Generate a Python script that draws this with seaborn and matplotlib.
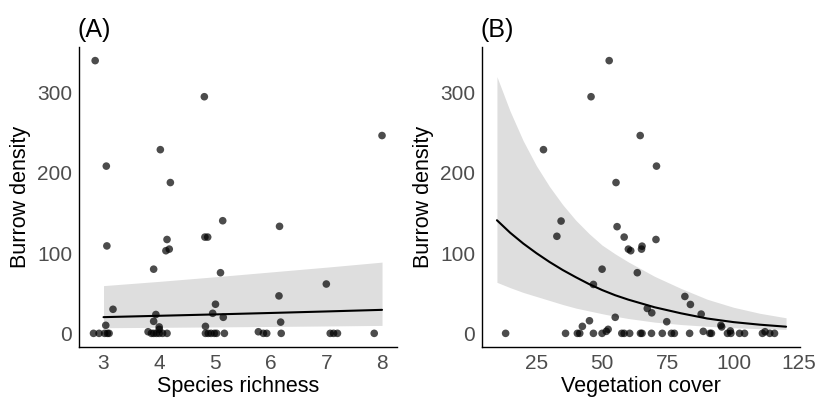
import matplotlib
matplotlib.use("Agg")
import matplotlib.pyplot as plt
import numpy as np
import pandas as pd
import seaborn as sns

# ---- Panel A: burrow density vs species richness ----
richness = [2.85, 4.81, 8.00, 4.02, 3.05, 4.20, 5.14, 6.16, 3.06, 4.14, 4.12, 4.18,
            4.82, 4.87, 3.90, 5.10, 7.00, 6.15, 5.01, 3.17, 4.96, 3.94, 5.15, 3.90,
            6.18, 3.04, 4.83, 4.00, 4.00, 3.80, 5.78,
            2.82, 2.92, 3.02, 3.07, 3.10, 3.86, 3.90, 3.95, 4.00, 4.06, 4.14, 4.83,
            4.88, 4.93, 4.99, 5.03, 5.17, 5.87, 5.93, 6.19, 7.07, 7.13, 7.20, 7.86]
density_a = [340, 295, 246.6, 229, 208.5, 188, 140.4, 133.4, 109, 117, 103, 105,
             120, 120, 80, 75.6, 61.5, 46.7, 36.3, 30, 25, 23.5, 20, 15,
             14, 10, 8.7, 8, 5, 2, 2,
             0, 0, 0, 0, 0, 0, 0, 0, 0, 0, 0, 0,
             0, 0, 0, 0, 0, 0, 0, 0, 0, 0, 0, 0]

# model prediction for richness
rich_grid = [3, 4, 5, 6, 7, 8]
rich_fit = [20.2, 21.9, 23.6, 25.4, 27.3, 29.3]
rich_lo = [7.0, 7.5, 8.0, 8.6, 9.2, 9.9]
rich_hi = [59.5, 64.8, 70.5, 76.5, 82.5, 88.8]

# ---- Panel B: burrow density vs vegetation cover ----
cover = [52.7, 45.8, 64.5, 27.7, 70.7, 55.3, 34.4, 32.8, 55.7, 58.4, 70.5, 60.0,
         60.9, 65.2, 65.0, 50.0, 63.4, 46.7, 81.5, 83.6, 67.2, 68.9, 87.7, 55.0,
         45.2, 74.6, 95.2, 42.5, 95.5, 52.3, 98.8, 88.5, 112.0, 51.6,
         13.3, 36.1, 40.6, 41.5, 46.7, 50.0, 57.5, 58.4, 60.5, 64.6, 65.2, 68.8,
         72.9, 76.4, 77.5, 83.3, 91.0, 91.6, 97.7, 99.0, 102.3, 104.2, 111.0,
         113.8, 115.6]
density_b = [340, 295, 246.6, 229, 208.5, 188, 140, 121, 133, 120, 117, 105,
             103, 108.7, 105, 80, 75.6, 61, 46, 36, 31, 25.6, 24, 20,
             15.7, 14.5, 10, 8.7, 8, 5, 3, 2.5, 2, 2.5,
             0, 0, 0, 0, 0, 0, 0, 0, 0, 0, 0, 0,
             0, 0, 0, 0, 0, 0, 0, 0, 0, 0, 0,
             0, 0]

# model prediction for vegetation cover
cover_grid = [10, 15, 20, 25, 30, 35, 40, 45, 50, 55, 60, 70, 80, 90, 100, 110, 120]
cover_fit = [141, 125.5, 112, 100, 89, 79, 70, 61.5, 54, 47.5, 42, 32.5, 25, 18.5,
             14, 10.8, 8.3]
cover_lo = [63.6, 57, 51, 46, 41, 36, 31.5, 28, 24.5, 21.3, 18.5, 14, 11, 8.8, 7,
            5.8, 5]
cover_hi = [320, 277, 240, 209, 183, 160.5, 141, 124.5, 110, 99, 89, 71, 56, 42.5,
            32.5, 25, 19.4]

sns.set_theme(style="white")
plt.rcParams["font.family"] = ["Liberation Sans", "DejaVu Sans"]

fig = plt.figure(figsize=(8.18, 4.03), dpi=100)
ax_a = fig.add_axes([0.0966, 0.139, 0.3888, 0.7444])
ax_b = fig.add_axes([0.5892, 0.139, 0.3888, 0.7444])

TICK_GREY = "#4D4D4D"
RIBBON = "#DEDEDE"


def draw_panel(ax, px, py, gx, gfit, glo, ghi, xlabel, tag, xlim, xticks):
    pts = pd.DataFrame({"x": px, "y": py})
    pred = pd.DataFrame({"x": gx, "fit": gfit, "lo": glo, "hi": ghi})
    ax.fill_between(pred["x"], pred["lo"], pred["hi"], color=RIBBON, lw=0, zorder=1)
    sns.lineplot(data=pred, x="x", y="fit", ax=ax, color="black", lw=1.5, zorder=2)
    sns.scatterplot(data=pts, x="x", y="y", ax=ax, color="black", alpha=0.7,
                    s=30, edgecolor="none", zorder=3)
    ax.set_xlim(*xlim)
    ax.set_ylim(-17, 357)
    ax.set_xticks(xticks)
    ax.set_yticks([0, 100, 200, 300])
    ax.set_xlabel(xlabel, fontsize=15.5, color="black", labelpad=2)
    ax.set_ylabel("Burrow density", fontsize=15.5, color="black", labelpad=4)
    ax.tick_params(axis="both", which="major", direction="out", length=3,
                   width=0.8, color="#333333", labelsize=15, labelcolor=TICK_GREY,
                   pad=2)
    for side in ("top", "right"):
        ax.spines[side].set_visible(False)
    for side in ("left", "bottom"):
        ax.spines[side].set_color("black")
        ax.spines[side].set_linewidth(1.0)
    ax.set_title(tag, loc="left", fontsize=18, color="black", pad=7, x=-0.005)


draw_panel(ax_a, richness, density_a, rich_grid, rich_fit, rich_lo, rich_hi,
           "Species richness", "(A)", (2.56, 8.27), [3, 4, 5, 6, 7, 8])
draw_panel(ax_b, cover, density_b, cover_grid, cover_fit, cover_lo, cover_hi,
           "Vegetation cover", "(B)", (4.3, 125.3), [25, 50, 75, 100, 125])

fig.savefig("out.png", dpi=100)
